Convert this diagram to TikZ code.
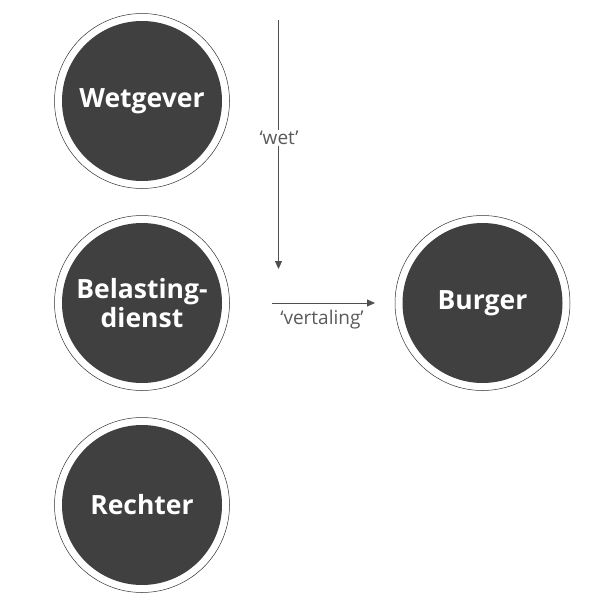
\documentclass[tikz,border=0pt]{standalone}
\usepackage{fontspec}
\setmainfont{Open Sans}
\usetikzlibrary{arrows.meta}
\definecolor{disc}{HTML}{404040}
\definecolor{ring}{HTML}{303030}
\definecolor{conn}{HTML}{505050}
\definecolor{lbl}{HTML}{5A5A5A}
\tikzset{
  actor/.style={circle, fill=disc, minimum size=160pt, inner sep=0pt, text=white,
    font=\fontsize{26.5}{29.5}\selectfont\bfseries, align=center},
  ringline/.style={draw=ring, line width=0.5pt},
  connector/.style={draw=conn, line width=0.9pt, -{Triangle[length=8pt,width=7pt]}},
  flowlabel/.style={fill=white, inner sep=1pt, text=lbl, font=\fontsize{19}{22}\selectfont}
}
\begin{document}
\begin{tikzpicture}[x=1pt,y=-1pt]
\useasboundingbox (0,0) rectangle (595,600);
\node[actor] (wet) at (142,101) {Wetgever};
\node[actor] (bel) at (142,303) {Belasting-\\dienst};
\node[actor] (rec) at (142,505) {Rechter};
\node[actor] (bur) at (482.5,303) {Burger};
\foreach \n in {wet,bel,rec,bur} {
  \draw[ringline] (\n.center) circle (87.5);
}
\coordinate (wtop) at (278.5,20);
\coordinate (wend) at (278.5,269);
\coordinate (vstart) at (272,303);
\coordinate (vend) at (375,303);
\draw[connector] (wtop) -- (wend);
\node[flowlabel] (wetlbl) at (279,138) {‘wet’};
\draw[connector] (vstart) -- (vend);
\node[flowlabel, inner sep=0pt] (vertlbl) at (322,320) {‘vertaling’};
\end{tikzpicture}
\end{document}
